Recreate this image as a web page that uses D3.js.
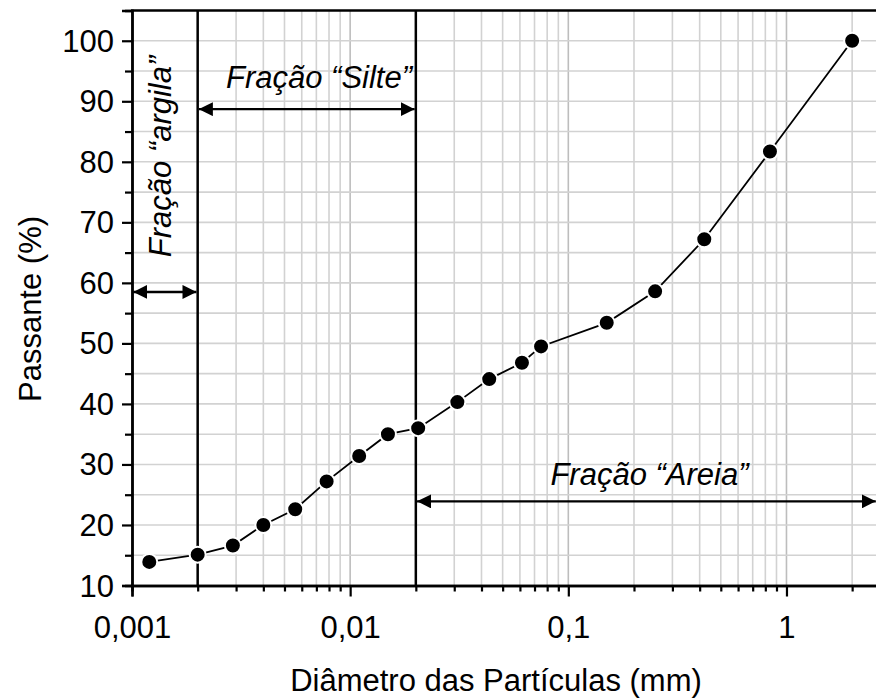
<!DOCTYPE html>
<html>
<head>
<meta charset="utf-8">
<script src="https://cdn.jsdelivr.net/npm/d3@7/dist/d3.min.js"></script>
<style>
  html, body { margin: 0; padding: 0; background: #fff; }
  svg { display: block; font-family: "Liberation Sans", Arial, Helvetica, sans-serif; }
</style>
</head>
<body>
<svg id="chart" width="876" height="699"></svg>
<script>
// Grain-size distribution: particle diameter (mm) vs. percent passing
const diameters = [0.0012, 0.002, 0.0029, 0.004, 0.0056, 0.0078, 0.011, 0.0149, 0.0205,
                   0.031, 0.0434, 0.0613, 0.075, 0.15, 0.25, 0.42, 0.84, 2.0];
const passing   = [13.9, 15.1, 16.6, 20.0, 22.6, 27.2, 31.4, 35.0, 36.0,
                   40.3, 44.1, 46.8, 49.5, 53.4, 58.6, 67.2, 81.7, 100.0];

// Fraction boundaries (mm)
const boundaries = [0.002, 0.02];

// Axis ticks
const xMajorTicks = [0.001, 0.01, 0.1, 1];
const yMajorTicks = [10, 20, 30, 40, 50, 60, 70, 80, 90, 100];
const yMinorTicks = [15, 25, 35, 45, 55, 65, 75, 85, 95];

// Fraction ranges with the level (percent) at which each arrow is drawn
const fractionNames  = ["Fração “argila”", "Fração “Silte”", "Fração “Areia”"];
const fractionFrom   = [0.001, 0.002, 0.02];
const fractionTo     = [0.002, 0.02, 2.6];
const fractionLevel  = [58.5, 88.7, 23.9];

const xLabel = "Diâmetro das Partículas (mm)";
const yLabel = "Passante (%)";

const svg = d3.select("#chart");
const plotLeft = 132, plotRight = 877, plotTop = 10.5, plotBottom = 585.5;

const x = d3.scaleLog().domain([0.001, 2.6]).range([plotLeft, plotRight]);
const y = d3.scaleLinear().domain([10, 105]).range([plotBottom, plotTop]);

const FS = 31;

// Grid
const grid = svg.append("g");
const xGridTicks = x.ticks();
grid.selectAll("line.vg").data(xGridTicks).join("line")
  .attr("x1", d => x(d)).attr("x2", d => x(d))
  .attr("y1", plotTop).attr("y2", plotBottom)
  .attr("stroke", d => xMajorTicks.includes(d) ? "#bdbdbd" : "#d2d2d2")
  .attr("stroke-width", 1.6);
grid.selectAll("line.hg").data(yMajorTicks.concat(yMinorTicks).filter(v => v > 10)).join("line")
  .attr("x1", plotLeft).attr("x2", plotRight)
  .attr("y1", d => y(d)).attr("y2", d => y(d))
  .attr("stroke", "#d2d2d2").attr("stroke-width", 1.6);

// Fraction boundary lines
svg.append("g").selectAll("line").data(boundaries).join("line")
  .attr("x1", d => x(d)).attr("x2", d => x(d))
  .attr("y1", plotTop).attr("y2", plotBottom)
  .attr("stroke", "#000").attr("stroke-width", 2.5);

// Arrow heads
const defs = svg.append("defs");
["start", "end"].forEach(kind => {
  defs.append("marker")
    .attr("id", "arrow-" + kind)
    .attr("markerUnits", "userSpaceOnUse")
    .attr("viewBox", "0 -7 14 14")
    .attr("refX", kind === "end" ? 14 : 0).attr("refY", 0)
    .attr("markerWidth", 14).attr("markerHeight", 14)
    .attr("orient", "auto")
    .append("path")
    .attr("d", kind === "end" ? "M0,-7L14,0L0,7Z" : "M14,-7L0,0L14,7Z")
    .attr("fill", "#000");
});

const arrows = svg.append("g");
fractionNames.forEach((name, i) => {
  arrows.append("line")
    .attr("x1", x(fractionFrom[i]) + 1.2).attr("x2", x(fractionTo[i]) - 1.2)
    .attr("y1", y(fractionLevel[i])).attr("y2", y(fractionLevel[i]))
    .attr("stroke", "#000").attr("stroke-width", 2.4)
    .attr("marker-start", "url(#arrow-start)")
    .attr("marker-end", "url(#arrow-end)");
});

// Fraction labels
const labels = svg.append("g")
  .attr("font-size", FS).attr("font-style", "italic").attr("fill", "#000");
labels.append("text")
  .attr("transform", `translate(171,156.5) rotate(-90)`)
  .attr("text-anchor", "middle").text(fractionNames[0]);
labels.append("text")
  .attr("x", 319).attr("y", 88)
  .attr("text-anchor", "middle").text(fractionNames[1]);
labels.append("text")
  .attr("x", 649.5).attr("y", 485)
  .attr("text-anchor", "middle").text(fractionNames[2]);

// Data curve
const pts = diameters.map((d, i) => [d, passing[i]]);
svg.append("path")
  .datum(pts)
  .attr("d", d3.line().x(d => x(d[0])).y(d => y(d[1])))
  .attr("fill", "none").attr("stroke", "#000").attr("stroke-width", 1.8);
svg.append("g").selectAll("circle").data(pts).join("circle")
  .attr("cx", d => x(d[0])).attr("cy", d => y(d[1]))
  .attr("r", 8).attr("fill", "#000")
  .attr("stroke", "#fff").attr("stroke-width", 2);

// Axes
const fmtX = d => String(d).replace(".", ",");
const xMinor = xGridTicks.filter(d => !xMajorTicks.includes(d));

const xAxisMajor = svg.append("g").attr("transform", `translate(0,${plotBottom})`)
  .call(d3.axisBottom(x).tickValues(xMajorTicks).tickSize(11).tickPadding(19).tickFormat(fmtX));
const xAxisMinor = svg.append("g").attr("transform", `translate(0,${plotBottom})`)
  .call(d3.axisBottom(x).tickValues(xMinor).tickSize(6).tickFormat(""));
const yAxisMajor = svg.append("g").attr("transform", `translate(${plotLeft},0)`)
  .call(d3.axisLeft(y).tickValues(yMajorTicks).tickSize(10).tickPadding(8).tickFormat(d3.format("d")));
const yAxisMinor = svg.append("g").attr("transform", `translate(${plotLeft},0)`)
  .call(d3.axisLeft(y).tickValues(yMinorTicks).tickSize(7).tickFormat(""));

[xAxisMajor, xAxisMinor, yAxisMajor, yAxisMinor].forEach(g => {
  g.selectAll(".domain").attr("stroke", "#000").attr("stroke-width", 2.4);
  g.selectAll(".tick line").attr("stroke", "#000").attr("stroke-width", 2.2);
  g.selectAll("text").attr("font-size", FS).attr("fill", "#000")
    .attr("font-family", "'Liberation Sans', Arial, sans-serif");
});
yAxisMajor.selectAll("text").attr("dy", "0.34em");

// Top frame line
svg.append("line")
  .attr("x1", plotLeft - 1).attr("x2", 876).attr("y1", plotTop).attr("y2", plotTop)
  .attr("stroke", "#000").attr("stroke-width", 2.4);

// Axis titles
svg.append("text")
  .attr("x", 496).attr("y", 691).attr("text-anchor", "middle")
  .attr("font-size", FS).text(xLabel);
svg.append("text")
  .attr("transform", `translate(41,309) rotate(-90)`)
  .attr("text-anchor", "middle")
  .attr("font-size", FS).text(yLabel);
</script>
</body>
</html>
